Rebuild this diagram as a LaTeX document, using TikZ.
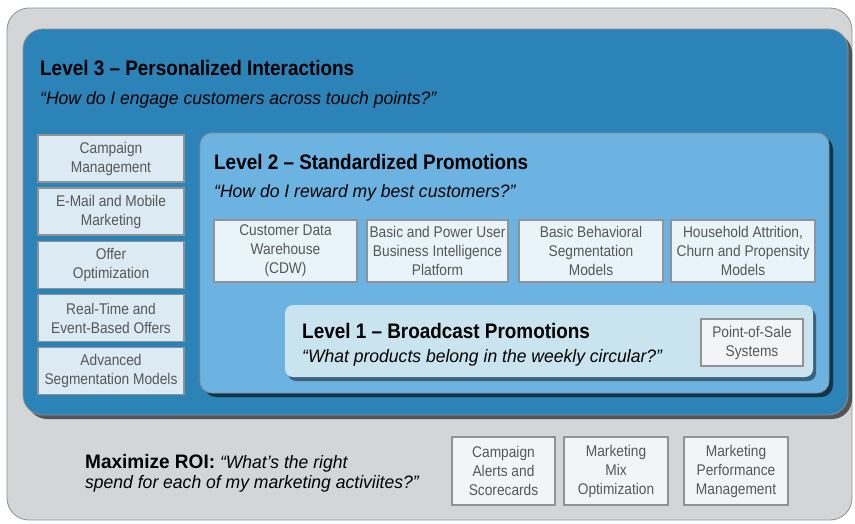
\documentclass[tikz,border=0pt]{standalone}
\usepackage{fontspec}
\setmainfont{Liberation Sans}
\newfontfamily\headfont[FakeStretch=0.90]{Liberation Sans}
\newfontfamily\quotefont[FakeStretch=0.975]{Liberation Sans}
\newfontfamily\boxfont[FakeStretch=0.886]{Liberation Sans}
\usetikzlibrary{shadows}
\definecolor{outerfill}{HTML}{D4D5D7}
\definecolor{outerline}{HTML}{8E8F91}
\definecolor{lvthree}{HTML}{2C83B8}
\definecolor{lvtwo}{HTML}{6CB3E2}
\definecolor{lvone}{HTML}{C9E4EF}
\definecolor{boxline}{HTML}{909396}
\definecolor{boxtext}{HTML}{555759}
\definecolor{leftfill}{HTML}{DCEAF3}
\definecolor{midfill}{HTML}{E9F3FA}
\definecolor{botfill}{HTML}{F3F4F5}
\tikzset{
  panel/.style={rectangle, draw=outerline, line width=0.8pt, inner sep=0pt},
  shade3/.style={drop shadow={shadow xshift=4pt, shadow yshift=-4pt, fill=black, opacity=0.6}},
  itembox/.style={rectangle, draw=boxline, line width=1.1pt, text=boxtext,
    align=center, inner sep=1pt, font=\boxfont\fontsize{15.5}{19}\selectfont},
  heading/.style={anchor=base west, inner sep=0pt, font=\headfont\bfseries\fontsize{21}{24}\selectfont},
  question/.style={anchor=base west, inner sep=0pt, font=\quotefont\itshape\fontsize{18}{21}\selectfont},
}
\begin{document}
\begin{tikzpicture}[x=1pt, y=-1pt]
\useasboundingbox (0,0) rectangle (855,523);

% outer frame
\node[panel, fill=outerfill, rounded corners=22pt, minimum width=845pt, minimum height=512pt] (frame) at (429.5,264) {};

% level 3 panel
\node[panel, fill=lvthree, rounded corners=20pt, shade3, minimum width=825pt, minimum height=386pt] (lvl3) at (435.5,222) {};
% level 2 panel
\node[panel, fill=lvtwo, rounded corners=12pt, shade3, minimum width=629pt, minimum height=260pt] (lvl2) at (514.5,263) {};
% level 1 panel
\node[panel, draw=none, fill=lvone, rounded corners=8pt,
  drop shadow={shadow xshift=3pt, shadow yshift=-4pt, fill=black, opacity=0.45},
  minimum width=528pt, minimum height=72pt] (lvl1) at (549,341) {};

% headings and questions
\node[heading] (h3) at (40,75) {Level 3 – Personalized Interactions};
\node[question] (q3) at (40,104) {“How do I engage customers across touch points?”};
\node[heading] (h2) at (214,169) {Level 2 – Standardized Promotions};
\node[question] (q2) at (214,197) {“How do I reward my best customers?”};
\node[heading] (h1) at (302,338) {Level 1 – Broadcast Promotions};
\node[question] (q1) at (302,362) {“What products belong in the weekly circular?”};

% level 3 capabilities
\foreach \name/\y/\txt in {cm/158.5/{Campaign\\Management},
                          em/211.5/{E-Mail and Mobile\\Marketing},
                          oo/265/{Offer\\Optimization},
                          rt/318/{Real-Time and\\Event-Based Offers},
                          as/371/{Advanced\\Segmentation Models}}
  \node[itembox, fill=leftfill, minimum width=146pt, minimum height=47pt] (\name) at (111,\y) {\txt};

% level 2 capabilities
\node[itembox, fill=midfill, minimum width=143pt, minimum height=62pt] (cdw) at (285.5,251) {Customer Data\\Warehouse\\(CDW)};
\node[itembox, fill=midfill, minimum width=141pt, minimum height=62pt] (bi) at (437.5,251) {Basic and Power User\\Business Intelligence\\Platform};
\node[itembox, fill=midfill, minimum width=144pt, minimum height=62pt] (bbs) at (591,251) {Basic Behavioral\\Segmentation\\Models};
\node[itembox, fill=midfill, minimum width=144pt, minimum height=62pt] (hh) at (743,251) {Household Attrition,\\Churn and Propensity\\Models};

% level 1 capability
\node[itembox, fill=botfill, minimum width=102pt, minimum height=47pt] (pos) at (752,342.5) {Point-of-Sale\\Systems};

% maximize ROI (base anchor sits on the last line)
\node[anchor=base west, inner sep=0pt, align=left, font=\quotefont\itshape\fontsize{18}{20}\selectfont] (roi) at (85,488)
  {{\upshape\bfseries\fontsize{19.5}{20}\selectfont Maximize ROI:} “What’s the right\\spend for each of my marketing activiites?”};

\node[itembox, fill=botfill, minimum width=103pt, minimum height=68pt] (cas) at (503.5,471) {Campaign\\Alerts and\\Scorecards};
\node[itembox, fill=botfill, minimum width=104pt, minimum height=68pt] (mmo) at (616,471) {Marketing\\Mix\\Optimization};
\node[itembox, fill=botfill, minimum width=104pt, minimum height=68pt] (mpm) at (736,471) {Marketing\\Performance\\Management};
\end{tikzpicture}
\end{document}
